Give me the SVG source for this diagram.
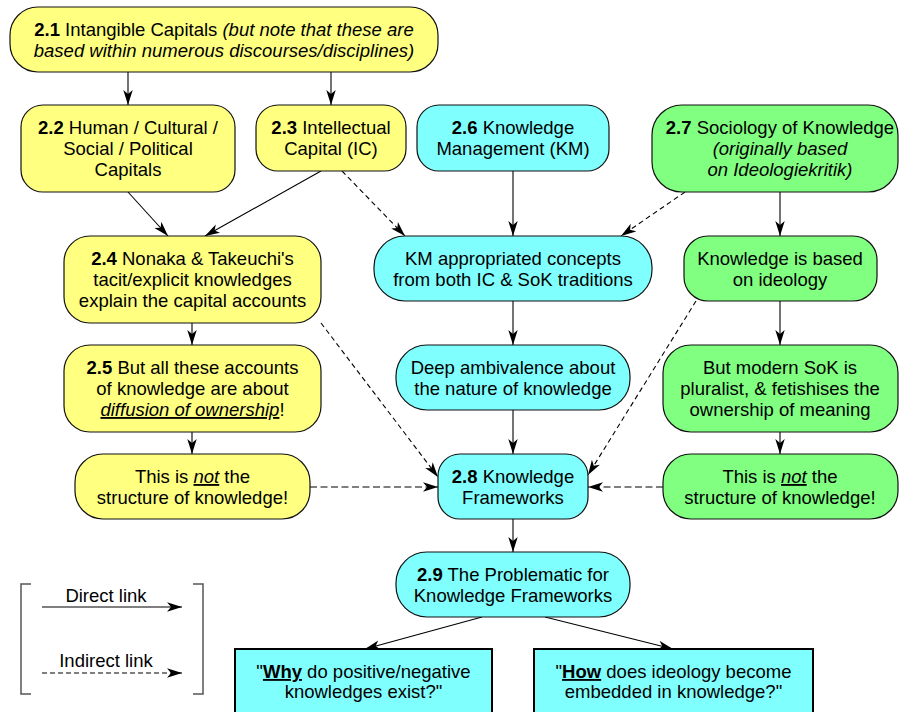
<svg xmlns="http://www.w3.org/2000/svg" width="899" height="712" viewBox="0 0 899 712">
<style>
text{font-family:"Liberation Sans",Arial,sans-serif;font-size:18.5px;fill:#000;text-anchor:middle}
.b{font-weight:bold}
.i{font-style:italic}
.u{text-decoration:underline}
.y{fill:#ffff80;stroke:#111;stroke-width:1.2}
.c{fill:#80ffff;stroke:#111;stroke-width:1.2}
.g{fill:#80ff80;stroke:#111;stroke-width:1.2}
.q{fill:#80ffff;stroke:#000;stroke-width:2}
.e{fill:none;stroke:#000;stroke-width:1.1;marker-end:url(#ah)}
.d{stroke-dasharray:5 3.5}
.br{fill:none;stroke:#555;stroke-width:1.5}
</style>
<defs>
<marker id="ah" markerUnits="userSpaceOnUse" viewBox="0 0 15 10" refX="15" refY="5" markerWidth="15" markerHeight="10" orient="auto">
<path d="M0,0.3 L15,5 L0,9.7 L4,5 Z" fill="#000"/>
</marker>
</defs>
<g id="connectors">
<line class="e" x1="128" y1="72" x2="128" y2="105"/>
<line class="e" x1="331" y1="72" x2="331" y2="105"/>
<line class="e" x1="128" y1="192" x2="168" y2="236"/>
<line class="e" x1="321" y1="171" x2="205" y2="236"/>
<line class="e d" x1="342" y1="171" x2="405" y2="236"/>
<line class="e" x1="513" y1="171" x2="513" y2="236"/>
<line class="e d" x1="685" y1="192" x2="621" y2="236"/>
<line class="e" x1="780" y1="192" x2="780" y2="236"/>
<line class="e" x1="513" y1="301" x2="513" y2="345"/>
<line class="e" x1="780" y1="301" x2="780" y2="345"/>
<line class="e" x1="192" y1="323" x2="192" y2="345"/>
<line class="e" x1="192" y1="432" x2="192" y2="454"/>
<line class="e d" x1="321" y1="323" x2="438" y2="477"/>
<line class="e d" x1="696" y1="301" x2="588" y2="475"/>
<line class="e" x1="513" y1="410" x2="513" y2="454"/>
<line class="e" x1="780" y1="432" x2="780" y2="454"/>
<line class="e" x1="310" y1="487" x2="438" y2="487" stroke-dasharray="7 3.5"/>
<line class="e" x1="663" y1="487" x2="588" y2="487" stroke-dasharray="7 3.5"/>
<line class="e" x1="513" y1="519" x2="513" y2="552"/>
<line class="e" x1="482" y1="617" x2="365" y2="649"/>
<line class="e" x1="545" y1="617" x2="673" y2="649"/>
</g>
<g id="n21"><rect class="y" x="10" y="7" width="428" height="65" rx="28"/>
<text x="224" y="36"><tspan class="b">2.1</tspan> Intangible Capitals <tspan class="i">(but note that these are</tspan></text>
<text x="224" y="57" class="i">based within numerous discourses/disciplines)</text></g>
<g id="n22"><rect class="y" x="21" y="105" width="214" height="87" rx="22"/>
<text x="128" y="134"><tspan class="b">2.2</tspan> Human / Cultural /</text>
<text x="128" y="155">Social / Political</text>
<text x="128" y="176">Capitals</text></g>
<g id="n23"><rect class="y" x="256" y="105" width="150" height="66" rx="22"/>
<text x="331" y="134"><tspan class="b">2.3</tspan> Intellectual</text>
<text x="331" y="155">Capital (IC)</text></g>
<g id="n26"><rect class="c" x="417" y="105" width="192" height="66" rx="22"/>
<text x="513" y="134"><tspan class="b">2.6</tspan> Knowledge</text>
<text x="513" y="155">Management (KM)</text></g>
<g id="n27"><rect class="g" x="652" y="105" width="246" height="87" rx="30"/>
<text x="780" y="134"><tspan class="b">2.7</tspan> Sociology of Knowledge</text>
<text x="780" y="155" class="i">(originally based</text>
<text x="780" y="176" class="i">on Ideologiekritik)</text></g>
<g id="n24"><rect class="y" x="64" y="236" width="257" height="87" rx="26"/>
<text x="192.5" y="265"><tspan class="b">2.4</tspan> Nonaka &amp; Takeuchi's</text>
<text x="192.5" y="286">tacit/explicit knowledges</text>
<text x="192.5" y="307">explain the capital accounts</text></g>
<g id="nkm"><rect class="c" x="374" y="236" width="278" height="65" rx="31"/>
<text x="513" y="265">KM appropriated concepts</text>
<text x="513" y="286">from both IC &amp; SoK traditions</text></g>
<g id="nkb"><rect class="g" x="684" y="236" width="193" height="65" rx="24"/>
<text x="780" y="265">Knowledge is based</text>
<text x="780" y="286">on ideology</text></g>
<g id="n25"><rect class="y" x="64" y="345" width="257" height="87" rx="26"/>
<text x="192.5" y="374"><tspan class="b">2.5</tspan> But all these accounts</text>
<text x="192.5" y="395">of knowledge are about</text>
<text x="192.5" y="416"><tspan class="i u">diffusion of ownership</tspan>!</text></g>
<g id="ndeep"><rect class="c" x="396" y="345" width="234" height="65" rx="31"/>
<text x="513" y="374">Deep ambivalence about</text>
<text x="513" y="395">the nature of knowledge</text></g>
<g id="nmod"><rect class="g" x="663" y="345" width="235" height="87" rx="28"/>
<text x="780" y="374">But modern SoK is</text>
<text x="780" y="395">pluralist, &amp; fetishises the</text>
<text x="780" y="416">ownership of meaning</text></g>
<g id="nnotl"><rect class="y" x="75" y="454" width="235" height="65" rx="28"/>
<text x="192.5" y="483">This is <tspan class="i u">not</tspan> the</text>
<text x="192.5" y="504">structure of knowledge!</text></g>
<g id="n28"><rect class="c" x="438" y="454" width="150" height="65" rx="22"/>
<text x="513" y="483"><tspan class="b">2.8</tspan> Knowledge</text>
<text x="513" y="504">Frameworks</text></g>
<g id="nnotr"><rect class="g" x="663" y="454" width="235" height="65" rx="28"/>
<text x="780" y="483">This is <tspan class="i u">not</tspan> the</text>
<text x="780" y="504">structure of knowledge!</text></g>
<g id="n29"><rect class="c" x="396" y="552" width="234" height="65" rx="31"/>
<text x="513" y="581"><tspan class="b">2.9</tspan> The Problematic for</text>
<text x="513" y="602">Knowledge Frameworks</text></g>
<g id="nwhy"><rect class="q" x="235" y="649" width="257" height="75"/>
<text x="363.5" y="678">"<tspan class="b u">Why</tspan> do positive/negative</text>
<text x="363.5" y="698">knowledges exist?"</text></g>
<g id="nhow"><rect class="q" x="534" y="649" width="279" height="75"/>
<text x="673.5" y="678">"<tspan class="b u">How</tspan> does ideology become</text>
<text x="673.5" y="698">embedded in knowledge?"</text></g>
<g id="legend">
<path class="br" d="M31,584 H21 V694 H31"/>
<path class="br" d="M193,584 H203 V694 H193"/>
<text x="106" y="602" font-size="17.5">Direct link</text>
<line class="e" x1="42" y1="607" x2="182" y2="607"/>
<text x="106" y="667" font-size="17.5">Indirect link</text>
<line class="e" x1="42" y1="673" x2="182" y2="673" stroke-dasharray="5 3"/>
</g>
</svg>
